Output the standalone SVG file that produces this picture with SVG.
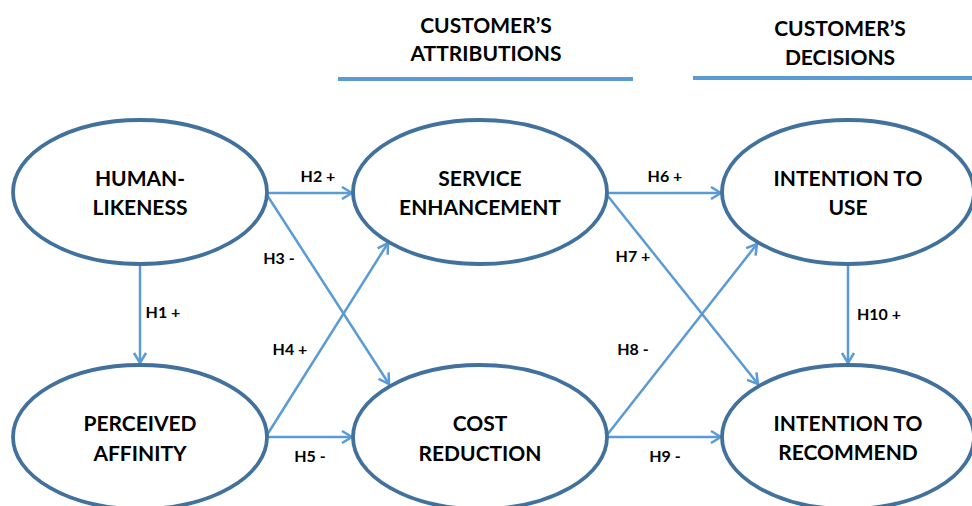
<svg xmlns="http://www.w3.org/2000/svg" width="972" height="506" viewBox="0 0 972 506">
<defs>
<style>
.node ellipse{fill:#fff;stroke:#41719C;stroke-width:3.8}
.node text{font-family:Lato,"Liberation Sans",sans-serif;font-weight:bold;font-size:21px;fill:#000;text-anchor:middle}
.hdr{font-family:Lato,"Liberation Sans",sans-serif;font-weight:bold;font-size:21px;fill:#000;text-anchor:middle}
.rule{stroke:#5B9BD5;stroke-width:4}
.conn line{stroke:#5B9BD5;stroke-width:2.5;marker-end:url(#arr)}
.lbl{font-family:Lato,"Liberation Sans",sans-serif;font-weight:bold;font-size:16px;fill:#000;text-anchor:middle}
</style>
<marker id="arr" viewBox="0 0 12 14" refX="11" refY="7" markerWidth="12" markerHeight="14" markerUnits="userSpaceOnUse" orient="auto">
<path d="M1,1 L11,7 L1,13" fill="none" stroke="#5B9BD5" stroke-width="2.5"/>
</marker>
</defs>
<rect width="972" height="506" fill="#fff"/>
<g id="headers">
<text class="hdr" x="486" y="33">CUSTOMER’S</text>
<text class="hdr" x="486" y="61">ATTRIBUTIONS</text>
<line class="rule" x1="338" y1="79" x2="633" y2="79"/>
<text class="hdr" x="840" y="36">CUSTOMER’S</text>
<text class="hdr" x="840" y="65">DECISIONS</text>
<line class="rule" x1="693" y1="78" x2="972" y2="78"/>
</g>
<g id="connectors" class="conn">
<line x1="140" y1="264" x2="140" y2="363"/>
<line x1="267" y1="193" x2="352" y2="193"/>
<line x1="267" y1="195" x2="389" y2="384"/>
<line x1="267" y1="435" x2="388" y2="243"/>
<line x1="267" y1="437" x2="352" y2="437"/>
<line x1="607" y1="193" x2="721" y2="193"/>
<line x1="607" y1="195" x2="758" y2="384"/>
<line x1="607" y1="435" x2="757" y2="244"/>
<line x1="607" y1="437" x2="721" y2="437"/>
<line x1="848" y1="265" x2="848" y2="363"/>
</g>
<g id="labels">
<text class="lbl" x="163" y="318">H1 +</text>
<text class="lbl" x="318" y="182">H2 +</text>
<text class="lbl" x="279" y="264">H3 -</text>
<text class="lbl" x="290" y="355">H4 +</text>
<text class="lbl" x="310" y="462">H5 -</text>
<text class="lbl" x="665" y="182">H6 +</text>
<text class="lbl" x="633" y="262">H7 +</text>
<text class="lbl" x="633" y="355">H8 -</text>
<text class="lbl" x="665" y="462">H9 -</text>
<text class="lbl" x="879" y="320">H10 +</text>
</g>
<g id="human-likeness" class="node">
<ellipse cx="140" cy="192" rx="127" ry="72"/>
<text x="140" y="186">HUMAN-</text>
<text x="140" y="215">LIKENESS</text>
</g>
<g id="perceived-affinity" class="node">
<ellipse cx="140" cy="437" rx="127" ry="72"/>
<text x="140" y="431">PERCEIVED</text>
<text x="140" y="461">AFFINITY</text>
</g>
<g id="service-enhancement" class="node">
<ellipse cx="480" cy="192" rx="127" ry="72"/>
<text x="480" y="186">SERVICE</text>
<text x="480" y="215">ENHANCEMENT</text>
</g>
<g id="cost-reduction" class="node">
<ellipse cx="480" cy="437" rx="127" ry="72"/>
<text x="480" y="431">COST</text>
<text x="480" y="461">REDUCTION</text>
</g>
<g id="intention-to-use" class="node">
<ellipse cx="848" cy="192" rx="126" ry="72"/>
<text x="848" y="186">INTENTION TO</text>
<text x="848" y="215">USE</text>
</g>
<g id="intention-to-recommend" class="node">
<ellipse cx="848" cy="437" rx="126" ry="72"/>
<text x="848" y="431">INTENTION TO</text>
<text x="848" y="460">RECOMMEND</text>
</g>
</svg>
